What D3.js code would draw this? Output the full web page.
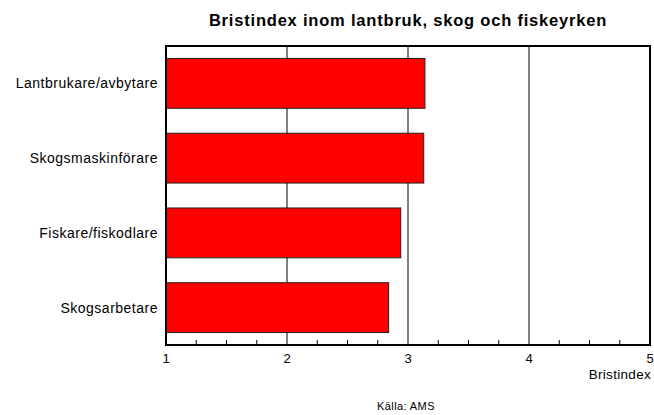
<!DOCTYPE html>
<html>
<head>
<meta charset="utf-8">
<script src="https://cdn.jsdelivr.net/npm/d3@7"></script>
<style>
  body { margin: 0; background: #fff; }
  text { font-family: "Liberation Sans", Arial, sans-serif; fill: #000; }
</style>
</head>
<body>
<div id="chart"></div>
<script>
const categories = ['Lantbrukare/avbytare', 'Skogsmaskinförare', 'Fiskare/fiskodlare', 'Skogsarbetare'];
const values = [3.14, 3.13, 2.94, 2.84];
const xTicks = [1, 2, 3, 4, 5];

const width = 654;
const height = 415;
const margin = { top: 46, right: 4, bottom: 70, left: 166 };

const svg = d3.select('#chart')
    .append('svg')
    .attr('width', width)
    .attr('height', height);

const x = d3.scaleLinear().domain([1, 5]).range([margin.left, width - margin.right]);
const y = d3.scaleBand()
    .domain(categories)
    .range([margin.top, height - margin.bottom])
    .paddingInner(1 / 3)
    .paddingOuter(1 / 6);

// gridlines
svg.append('g')
    .selectAll('line')
    .data(xTicks.slice(1, -1))
    .join('line')
    .attr('x1', d => x(d)).attr('x2', d => x(d))
    .attr('y1', margin.top).attr('y2', height - margin.bottom)
    .attr('stroke', '#000')
    .attr('stroke-width', 1);

// bars
svg.append('g')
    .selectAll('rect')
    .data(categories)
    .join('rect')
    .attr('x', x(1))
    .attr('y', d => y(d))
    .attr('width', (d, i) => x(values[i]) - x(1))
    .attr('height', y.bandwidth())
    .attr('fill', '#ff0000')
    .attr('stroke', '#222')
    .attr('stroke-width', 1);

// minor ticks on bottom
const minor = d3.range(1, 5.001, 0.25).filter(v => !xTicks.includes(v));
svg.append('g')
    .selectAll('line')
    .data(minor)
    .join('line')
    .attr('x1', d => x(d)).attr('x2', d => x(d))
    .attr('y1', height - margin.bottom).attr('y2', height - margin.bottom - 5)
    .attr('stroke', '#000');

// frame
svg.append('rect')
    .attr('x', margin.left)
    .attr('y', margin.top)
    .attr('width', width - margin.left - margin.right)
    .attr('height', height - margin.top - margin.bottom)
    .attr('fill', 'none')
    .attr('stroke', '#000')
    .attr('stroke-width', 2);

// x labels
svg.append('g')
    .selectAll('text')
    .data(xTicks)
    .join('text')
    .attr('x', d => x(d))
    .attr('y', height - margin.bottom + 18)
    .attr('text-anchor', 'middle')
    .style('font-size', '13px')
    .text(d => d);

// category labels
svg.append('g')
    .selectAll('text')
    .data(categories)
    .join('text')
    .attr('x', margin.left - 8)
    .attr('y', d => y(d) + y.bandwidth() / 2 + 5)
    .attr('text-anchor', 'end')
    .style('font-size', '14px')
    .style('letter-spacing', '0.5px')
    .text(d => d);

svg.append('text')
    .attr('x', width - 3)
    .attr('y', 379)
    .attr('text-anchor', 'end')
    .style('font-size', '13.5px')
    .style('letter-spacing', '0.3px')
    .text('Bristindex');

svg.append('text')
    .attr('x', 408)
    .attr('y', 26)
    .attr('text-anchor', 'middle')
    .style('font-size', '16.5px')
    .style('font-weight', 'bold')
    .style('letter-spacing', '0.8px')
    .text('Bristindex inom lantbruk, skog och fiskeyrken');

svg.append('text')
    .attr('x', 406)
    .attr('y', 410)
    .attr('text-anchor', 'middle')
    .style('font-size', '11px')
    .style('letter-spacing', '0.4px')
    .text('Källa: AMS');
</script>
</body>
</html>
